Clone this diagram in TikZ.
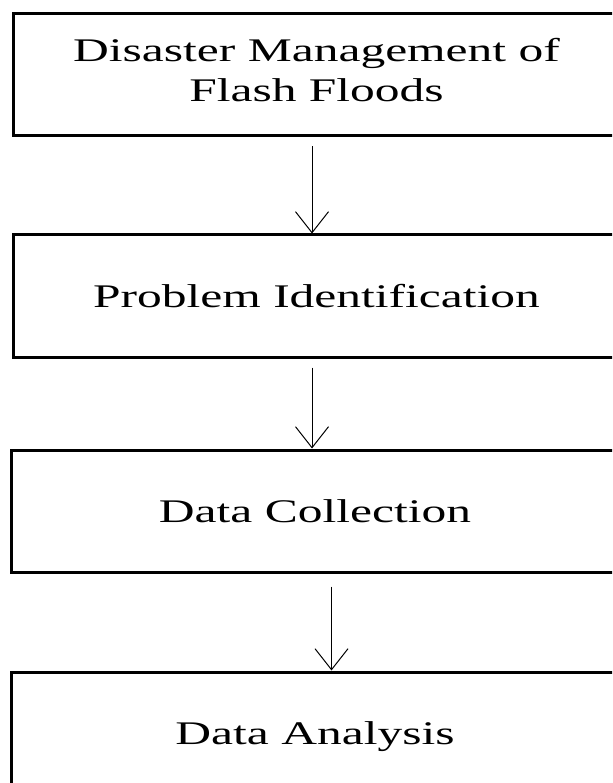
\documentclass[tikz,border=0pt]{standalone}
\usepackage{fontspec}
\setmainfont{Liberation Serif}
\usetikzlibrary{arrows.meta,positioning}
\newcommand{\wtext}[1]{\scalebox{1.5}[1]{#1}}

\begin{document}
\begin{tikzpicture}[x=1pt,y=-1pt,>={Straight Barb[length=21pt,width=33pt]},line width=1pt]
  \tikzstyle{stage}=[draw,line width=3pt,minimum width=607pt,minimum height=122pt,inner sep=0pt,align=center,font=\fontsize{33}{40}\selectfont]
  \tikzstyle{flow}=[->,line width=1pt]

  \useasboundingbox (0,0) rectangle (612,783);
  \clip (0,0) rectangle (612,783);

  \node[stage] (dm) at (316.5,75) [text depth=11pt] {\wtext{Disaster Management of}\\\wtext{Flash Floods}};
  \node[stage] (pi) [below=96pt of dm] {\wtext{Problem Identification}};
  \node[stage] (dc) [below=90pt of pi,xshift=-1.5pt] {\wtext{Data Collection}};
  \node[stage] (da) [below=97pt of dc,minimum height=130pt] {\wtext{Data Analysis}};

  \draw[flow] ([xshift=-4.5pt,yshift=-9pt]dm.south) -- ([xshift=-4.5pt]pi.north);
  \draw[flow] ([xshift=-4.5pt,yshift=-9pt]pi.south) -- ([xshift=-3pt]dc.north);
  \draw[flow] ([xshift=16.5pt,yshift=-13pt]dc.south) -- ([xshift=16.5pt]da.north);
\end{tikzpicture}
\end{document}
